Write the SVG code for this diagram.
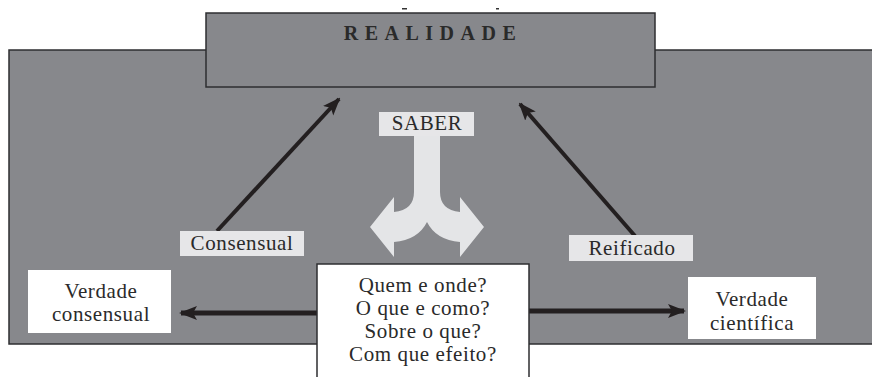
<svg xmlns="http://www.w3.org/2000/svg" width="872" height="377" viewBox="0 0 872 377">
  <style>
    .panel { fill: #87888c; stroke: #2e2e30; stroke-width: 1.5; }
    .white { fill: #ffffff; stroke: none; }
    .label { fill: #e6e6e8; stroke: none; }
    .conn { stroke: #231f20; fill: none; }
  </style>
  <defs>
    <marker id="head" markerUnits="userSpaceOnUse" markerWidth="18" markerHeight="18" viewBox="0 0 18 18" refX="16" refY="9" orient="auto">
      <path d="M0,2 L18,9 L0,16 L4,9 Z" fill="#231f20"/>
    </marker>
  </defs>
  <rect width="872" height="377" fill="#ffffff"/>
  <g id="fundo">
    <rect class="panel" x="9" y="50" width="880" height="294"/>
  </g>
  <g id="realidade">
    <rect class="panel" x="206" y="13" width="449" height="74"/>
    <text x="433" y="40" font-family="Liberation Serif, serif" font-size="20" font-weight="bold" letter-spacing="6.5" text-anchor="middle" fill="#2a2a2a">REALIDADE</text>
  </g>
  <rect x="402" y="8" width="5" height="1.5" fill="#333"/>
  <rect x="496" y="8" width="3" height="1.5" fill="#333"/>
  <g font-family="Liberation Serif, serif" font-size="21" letter-spacing="0.6" fill="#2a2a2a" text-anchor="middle">
  <g id="saber">
    <path d="M414,136 L414,192 Q414,210 394,212 L394,197 L370,227 L394,257 L394,242 Q418,240 427,222 Q436,240 460,242 L460,257 L484,227 L460,197 L460,212 Q440,210 440,192 L440,136 Z" fill="#e4e5e7"/>
    <rect class="label" x="379" y="112" width="95" height="24"/>
    <text x="427" y="130">SABER</text>
  </g>
  <g id="connectors">
    <line class="conn" x1="217" y1="231" x2="339" y2="99" stroke-width="4" marker-end="url(#head)"/>
    <line class="conn" x1="635" y1="236" x2="520" y2="104" stroke-width="4" marker-end="url(#head)"/>
    <line class="conn" x1="318" y1="313" x2="181" y2="313" stroke-width="5" marker-end="url(#head)"/>
    <line class="conn" x1="528" y1="311" x2="684" y2="311" stroke-width="5" marker-end="url(#head)"/>
  </g>
  <g id="consensual">
    <rect class="label" x="180" y="231" width="124" height="25"/>
    <text x="242" y="250">Consensual</text>
  </g>
  <g id="reificado">
    <rect class="label" x="569" y="235" width="124" height="26"/>
    <text x="632" y="255">Reificado</text>
  </g>
  <g id="verdade-consensual">
    <rect class="white" x="28" y="270" width="143" height="63"/>
    <text x="101" y="298">Verdade</text>
    <text x="101" y="321">consensual</text>
  </g>
  <g id="verdade-cientifica">
    <rect class="white" x="688" y="277" width="128" height="62"/>
    <text x="752" y="306">Verdade</text>
    <text x="752" y="330">científica</text>
  </g>
  <g id="perguntas">
    <rect x="317" y="264" width="212" height="130" fill="#ffffff" stroke="#2e2e30" stroke-width="1.5"/>
    <text x="423" y="292">Quem e onde?</text>
    <text x="423" y="315">O que e como?</text>
    <text x="423" y="338">Sobre o que?</text>
    <text x="423" y="361">Com que efeito?</text>
  </g>
  </g>
</svg>
